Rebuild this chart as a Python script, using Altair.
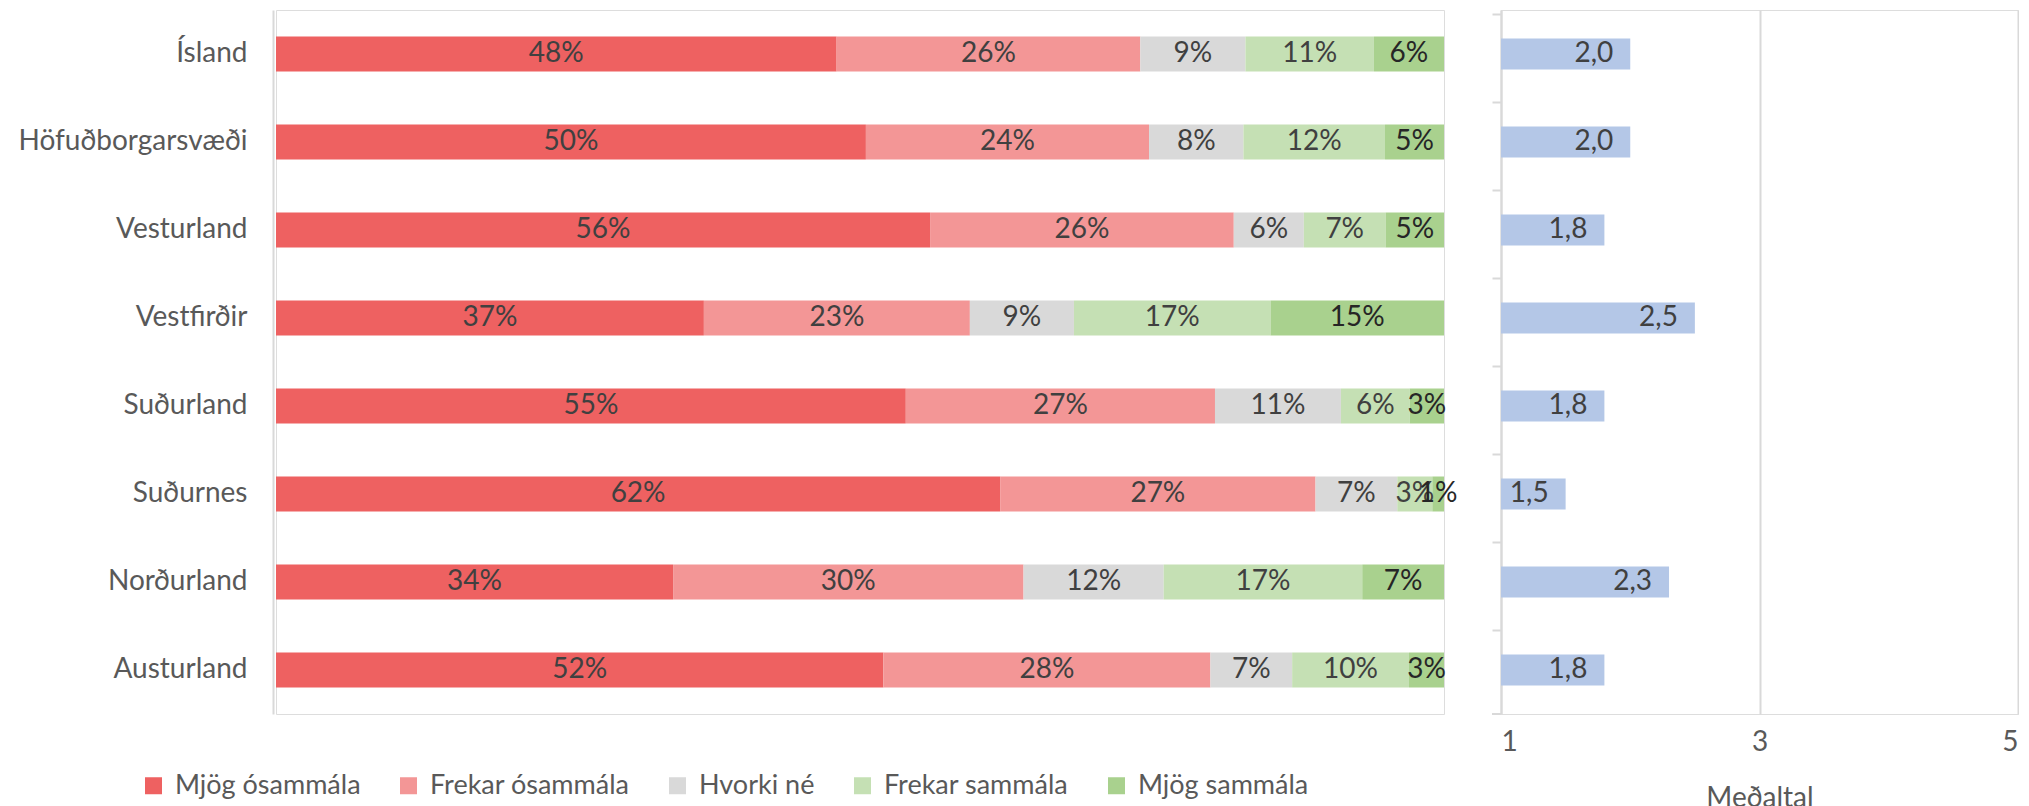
import altair as alt
import pandas as pd

regions = ["Ísland", "Höfuðborgarsvæði", "Vesturland", "Vestfirðir",
           "Suðurland", "Suðurnes", "Norðurland", "Austurland"]
responses = ["Mjög ósammála", "Frekar ósammála", "Hvorki né",
             "Frekar sammála", "Mjög sammála"]
mjog_osammala = [48, 50, 56, 37, 55, 62, 34, 52]
frekar_osammala = [26, 24, 26, 23, 27, 27, 30, 28]
hvorki_ne = [9, 8, 6, 9, 11, 7, 12, 7]
frekar_sammala = [11, 12, 7, 17, 6, 3, 17, 10]
mjog_sammala = [6, 5, 5, 15, 3, 1, 7, 3]
medaltal = [2.0, 2.0, 1.8, 2.5, 1.8, 1.5, 2.3, 1.8]
mean_ticks = [1, 3, 5]

colors = ["#EE6161", "#F39696", "#D9D9D9", "#C5E0B4", "#A9D18E"]
FONT = "Lato"
FS = 28
GRAY = "#D9D9D9"
TXT = "#595959"

series = [mjog_osammala, frekar_osammala, hvorki_ne, frekar_sammala, mjog_sammala]
rows = []
for ri, reg in enumerate(regions):
    for k, resp in enumerate(responses):
        rows.append({"region": reg, "resp": resp, "order": k, "value": series[k][ri]})
df = pd.DataFrame(rows)
dm = pd.DataFrame({"region": regions, "mean": medaltal})

H = 704
ysort = regions

base = (
    alt.Chart(df)
    .transform_joinaggregate(total="sum(value)", groupby=["region"])
    .transform_window(cum="sum(value)", sort=[alt.SortField("order")], groupby=["region"])
    .transform_calculate(
        x0="(datum.cum - datum.value) / datum.total",
        x1="datum.cum / datum.total",
        mid="(datum.cum - datum.value / 2) / datum.total",
        lbl="datum.value + '%'",
    )
)

yax = alt.Axis(title=None, ticks=False, labelPadding=26, domainColor=GRAY,
               domainWidth=2, labelFontSize=FS, labelColor=TXT, labelFont=FONT,
               offset=3, labelLimit=600, minExtent=264, maxExtent=264)

bars = base.mark_bar(size=35).encode(
    y=alt.Y("region:N", sort=ysort, axis=yax),
    x=alt.X("x0:Q", scale=alt.Scale(domain=[0, 1]), axis=None),
    x2="x1:Q",
    color=alt.Color(
        "resp:N",
        scale=alt.Scale(domain=responses, range=colors),
        legend=alt.Legend(
            title=None, orient="none", direction="horizontal",
            legendX=-136, legendY=762, symbolType="square", symbolSize=289,
            symbolStrokeWidth=0, labelFontSize=27, labelFont=FONT,
            labelColor=TXT, columnPadding=34, labelLimit=600, labelOffset=8,
        ),
        sort=responses,
    ),
)

texts = base.mark_text(fontSize=FS, font=FONT).encode(
    y=alt.Y("region:N", sort=ysort),
    x=alt.X("mid:Q", scale=alt.Scale(domain=[0, 1])),
    text="lbl:N",
    color=alt.condition("datum.resp === 'Mjög sammála'", alt.value("#262626"), alt.value("#404040")),
)

left = alt.layer(bars, texts).properties(width=1168, height=H)

rbase = alt.Chart(dm).transform_calculate(
    lbl="replace(format(datum.mean, '.1f'), '.', ',')"
)
ryax = alt.Axis(title=None, labels=False, ticks=True, tickSize=9, tickColor=GRAY,
                tickWidth=2, bandPosition=0, domainColor=GRAY, domainWidth=2, grid=False)
rxax = alt.Axis(values=mean_ticks, grid=True, gridColor=GRAY, gridWidth=2,
                domain=False, ticks=False, labelFontSize=FS, labelFont=FONT,
                labelColor=TXT, labelPadding=14, title="Meðaltal",
                titleFontSize=FS, titleFont=FONT, titleColor=TXT,
                titleFontWeight="normal", titlePadding=28, format="d")

mbars = rbase.mark_bar(size=31, color="#B4C7E7").encode(
    y=alt.Y("region:N", sort=ysort, axis=ryax),
    x=alt.X("mean:Q", scale=alt.Scale(domain=[1, 5], zero=False, nice=False), axis=rxax),
    x2=alt.datum(1),
)
mtext = rbase.mark_text(fontSize=FS, font=FONT, align="right", dx=-17, color="#404040").encode(
    y=alt.Y("region:N", sort=ysort),
    x=alt.X("mean:Q", scale=alt.Scale(domain=[1, 5], zero=False, nice=False)),
    text="lbl:N",
)
endtick = rbase.mark_rule(color=GRAY, strokeWidth=2).encode(
    x=alt.value(-9), x2=alt.value(0), y=alt.value(H)
)
right = alt.layer(mbars, mtext, endtick).properties(width=517, height=H)

chart = (
    alt.hconcat(left, right, spacing=57, bounds="flush")
    .properties(padding={"left": 0, "top": 1, "right": 0, "bottom": 0})
    .configure_view(stroke=None)
    .configure(font=FONT)
)

chart.save("out.html", embed_options={"renderer": "svg", "actions": False})
